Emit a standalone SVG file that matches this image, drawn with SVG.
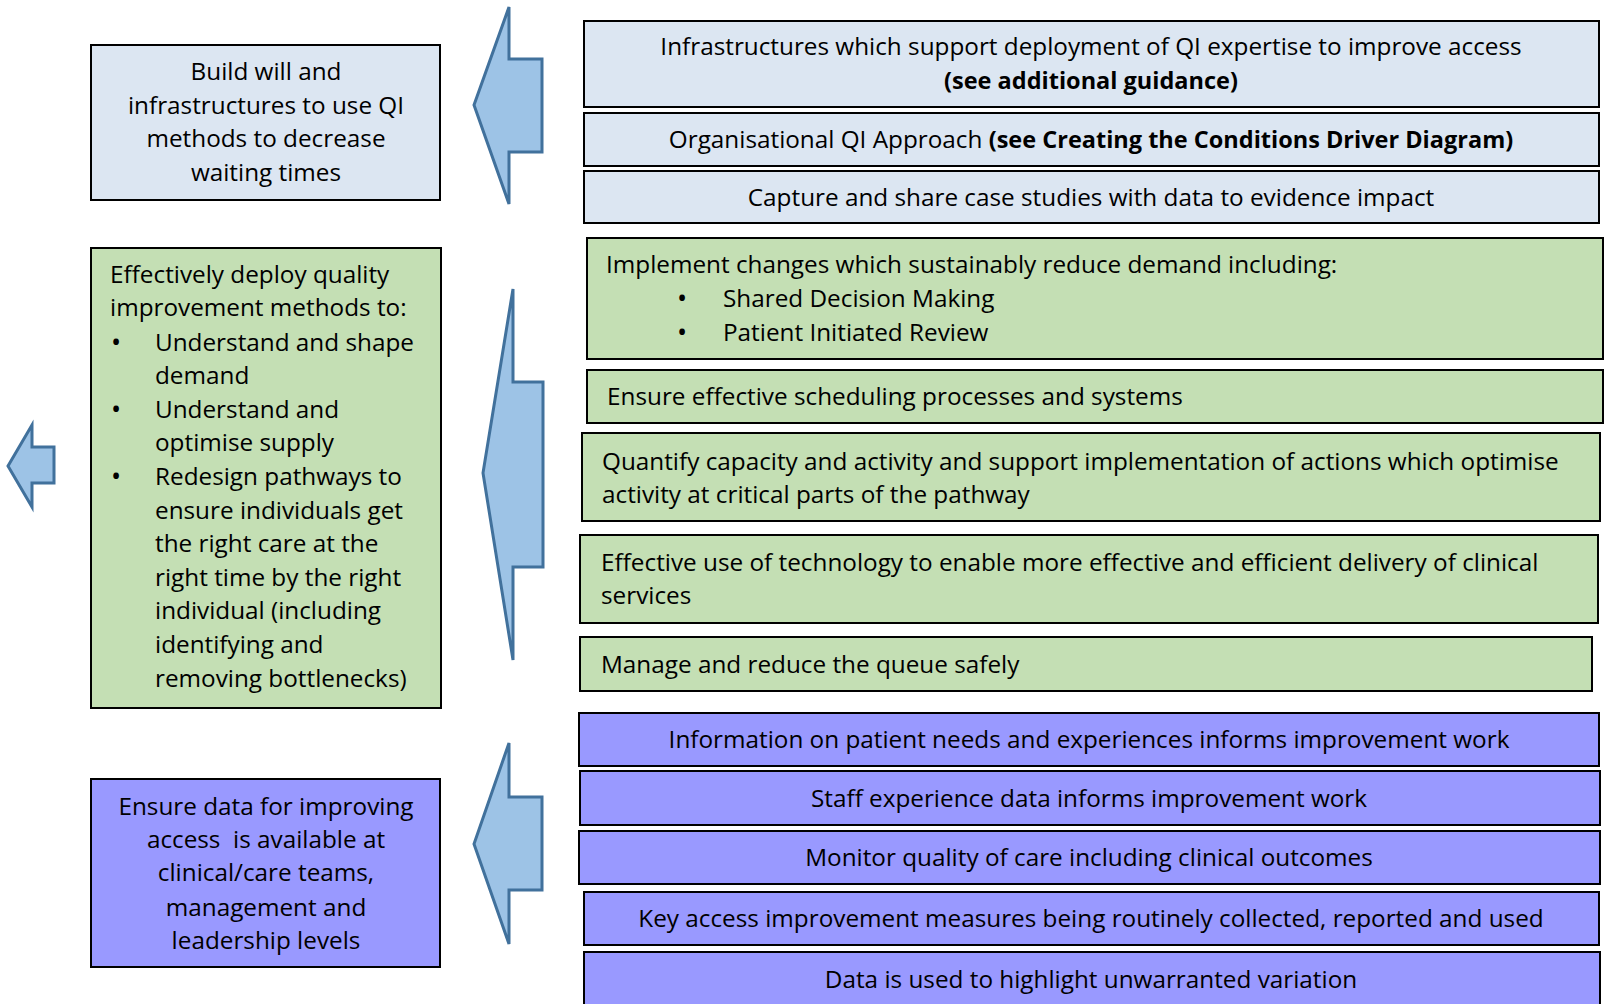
<svg xmlns="http://www.w3.org/2000/svg" width="1605" height="1004" viewBox="0 0 1605 1004">
<style>
text{font-family:"Open Sans",Lato,"Liberation Sans",sans-serif;font-size:24.3px;fill:#000}
.c{text-anchor:middle}
.b{font-weight:bold;font-size:23.5px}
.pre{white-space:pre}
.bul{font-size:27px}
.box{stroke:#000;stroke-width:2}
.blue{fill:#DCE6F2}
.green{fill:#C4DFB4}
.purple{fill:#9999FF}
.arrow{fill:#9DC3E6;stroke:#41719C;stroke-width:3;stroke-linejoin:miter}
</style>
<rect width="1605" height="1004" fill="#fff"/>
<g id="connectors">
<polygon class="arrow" points="509,7 509,59 542,59 542,152 509,152 509,204 474,105"/>
<polygon class="arrow" points="513,289 513,382 543,382 543,567 513,567 513,660 483,473"/>
<polygon class="arrow" points="509,743 509,797 542,797 542,890 509,890 509,944 474,844"/>
<polygon class="arrow" points="32,425 32,447 54,447 54,483 32,483 32,507 8,466"/>
</g>
<g id="n-build">
<rect class="box blue" x="91" y="45" width="349" height="155"/>
<text class="c" x="266" y="80">Build will and</text>
<text class="c" x="266" y="114">infrastructures to use QI</text>
<text class="c" x="266" y="147">methods to decrease</text>
<text class="c" x="266" y="181">waiting times</text>
</g>
<g id="n-deploy">
<rect class="box green" x="91" y="248" width="350" height="460"/>
<text x="110" y="283">Effectively deploy quality</text>
<text x="110" y="316">improvement methods to:</text>
<text class="bul" x="111" y="352">•</text><text x="155" y="351">Understand and shape</text>
<text x="155" y="384">demand</text>
<text class="bul" x="111" y="419">•</text><text x="155" y="418">Understand and</text>
<text x="155" y="451">optimise supply</text>
<text class="bul" x="111" y="486">•</text><text x="155" y="485">Redesign pathways to</text>
<text x="155" y="519">ensure individuals get</text>
<text x="155" y="552">the right care at the</text>
<text x="155" y="586">right time by the right</text>
<text x="155" y="619">individual (including</text>
<text x="155" y="653">identifying and</text>
<text x="155" y="687">removing bottlenecks)</text>
</g>
<g id="n-data">
<rect class="box purple" x="91" y="779" width="349" height="188"/>
<text class="c" x="266" y="815">Ensure data for improving</text>
<text class="c pre" x="266" y="848">access  is available at</text>
<text class="c" x="266" y="881">clinical/care teams,</text>
<text class="c" x="266" y="916">management and</text>
<text class="c" x="266" y="949">leadership levels</text>
</g>
<g id="n-infra">
<rect class="box blue" x="584" y="21" width="1015" height="86"/>
<text class="c" x="1091" y="55">Infrastructures which support deployment of QI expertise to improve access</text>
<text class="c b" x="1091" y="89">(see additional guidance)</text>
</g>
<g id="n-org">
<rect class="box blue" x="584" y="113" width="1015" height="53"/>
<text class="c" x="1091" y="148">Organisational QI Approach <tspan class="b">(see Creating the Conditions Driver Diagram)</tspan></text>
</g>
<g id="n-capture">
<rect class="box blue" x="584" y="171" width="1015" height="52"/>
<text class="c" x="1091" y="206">Capture and share case studies with data to evidence impact</text>
</g>
<g id="n-implement">
<rect class="box green" x="587" y="238" width="1016" height="121"/>
<text x="606" y="273">Implement changes which sustainably reduce demand including:</text>
<text class="bul" x="677" y="308">•</text><text x="723" y="307">Shared Decision Making</text>
<text class="bul" x="677" y="342">•</text><text x="723" y="341">Patient Initiated Review</text>
</g>
<g id="n-schedule">
<rect class="box green" x="587" y="370" width="1016" height="53"/>
<text x="607" y="405">Ensure effective scheduling processes and systems</text>
</g>
<g id="n-quantify">
<rect class="box green" x="582" y="433" width="1018" height="88"/>
<text x="602" y="470">Quantify capacity and activity and support implementation of actions which optimise</text>
<text x="602" y="503">activity at critical parts of the pathway</text>
</g>
<g id="n-tech">
<rect class="box green" x="580" y="535" width="1018" height="88"/>
<text x="601" y="571">Effective use of technology to enable more effective and efficient delivery of clinical</text>
<text x="601" y="604">services</text>
</g>
<g id="n-queue">
<rect class="box green" x="580" y="637" width="1012" height="54"/>
<text x="601" y="673">Manage and reduce the queue safely</text>
</g>
<g id="n-patient">
<rect class="box purple" x="579" y="713" width="1020" height="53"/>
<text class="c" x="1089" y="748">Information on patient needs and experiences informs improvement work</text>
</g>
<g id="n-staff">
<rect class="box purple" x="580" y="771" width="1020" height="54"/>
<text class="c" x="1089" y="807">Staff experience data informs improvement work</text>
</g>
<g id="n-monitor">
<rect class="box purple" x="579" y="831" width="1021" height="53"/>
<text class="c" x="1089" y="866">Monitor quality of care including clinical outcomes</text>
</g>
<g id="n-key">
<rect class="box purple" x="584" y="892" width="1015" height="53"/>
<text class="c" x="1091" y="927">Key access improvement measures being routinely collected, reported and used</text>
</g>
<g id="n-variation">
<rect class="box purple" x="584" y="952" width="1016" height="60"/>
<text class="c" x="1091" y="988">Data is used to highlight unwarranted variation</text>
</g>
</svg>
